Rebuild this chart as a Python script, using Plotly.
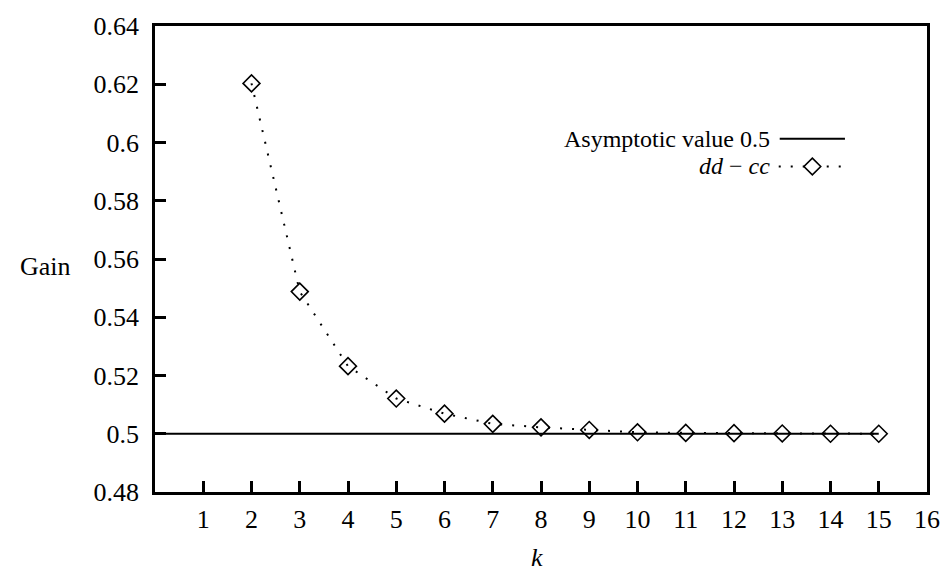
import plotly.graph_objects as go

# Data
k_values = [2, 3, 4, 5, 6, 7, 8, 9, 10, 11, 12, 13, 14, 15]
gain_dd_cc = [0.6203, 0.5488, 0.5232, 0.5121, 0.5069, 0.5034, 0.5022, 0.5013,
              0.5005, 0.5003, 0.5002, 0.5001, 0.5000, 0.5000]
asymptote_k = [0, 15]
asymptote_gain = [0.5, 0.5]
x_tick_vals = list(range(1, 17))
y_tick_vals = [0.48, 0.50, 0.52, 0.54, 0.56, 0.58, 0.60, 0.62, 0.64]
y_tick_text = ["0.48", "0.5", "0.52", "0.54", "0.56", "0.58", "0.6", "0.62", "0.64"]

FONT = "Liberation Serif"
FS = 26
LFS = 24

fig = go.Figure()
fig.add_trace(go.Scatter(
    x=asymptote_k, y=asymptote_gain, mode="lines",
    line=dict(color="black", width=2), showlegend=False, cliponaxis=True))
fig.add_trace(go.Scatter(
    x=k_values, y=gain_dd_cc, mode="lines+markers",
    line=dict(color="black", width=2, dash="2px,10px"),
    marker=dict(symbol="diamond-open", size=13, color="black", line=dict(width=1.6, color="black")),
    showlegend=False, cliponaxis=False))

W, H = 952, 574
ml, mr, mt, mb = 155, 16, 21, 82
pw, ph = W - ml - mr, H - mt - mb

def px(x):
    return (x - ml) / pw

def py(y):
    return 1 - (y - mt) / ph

L1, L2 = 135, 163
shapes = []
annotations = []
# custom legend (text on the left, sample on the right)
annotations.append(dict(x=px(778), y=py(L1), xref="paper", yref="paper", text="Asymptotic value 0.5",
                        showarrow=False, xanchor="right", yanchor="middle", borderpad=0,
                        font=dict(family=FONT, size=LFS, color="black")))
shapes.append(dict(type="line", xref="paper", yref="paper", x0=px(787), x1=px(853), y0=py(L1), y1=py(L1),
                   line=dict(color="black", width=2)))
annotations.append(dict(x=px(778), y=py(L2), xref="paper", yref="paper", text="<i>dd</i> − <i>cc</i>",
                        showarrow=False, xanchor="right", yanchor="middle", borderpad=0,
                        font=dict(family=FONT, size=LFS, color="black")))
shapes.append(dict(type="line", xref="paper", yref="paper", x0=px(786), x1=px(855), y0=py(L2), y1=py(L2),
                   line=dict(color="black", width=2, dash="2px,10px")))
shapes.append(dict(type="path", xref="paper", yref="paper",
                   path="M {a},{b} L {c},{d} L {a},{e} L {f},{d} Z".format(
                       a=px(820), b=py(L2 - 8.5), c=px(828.5), d=py(L2), e=py(L2 + 8.5), f=px(811.5)),
                   fillcolor="white", line=dict(color="black", width=1.6)))

# axis titles
annotations.append(dict(x=px(44), y=py(264), xref="paper", yref="paper", text="Gain", showarrow=False,
                        xanchor="center", yanchor="middle",
                        font=dict(family=FONT, size=FS, color="black")))
annotations.append(dict(x=px(541), y=py(558), xref="paper", yref="paper", text="<i>k</i>", showarrow=False,
                        xanchor="center", yanchor="middle",
                        font=dict(family=FONT, size=FS, color="black")))

fig.update_layout(
    width=W, height=H,
    margin=dict(l=ml, r=mr, t=mt, b=mb),
    paper_bgcolor="white", plot_bgcolor="white",
    font=dict(family=FONT, size=FS, color="black"),
    shapes=shapes, annotations=annotations,
    xaxis=dict(range=[0, 16], tickvals=x_tick_vals, ticks="inside", ticklen=11, tickwidth=2.5,
               tickcolor="black", showline=True, linecolor="black", linewidth=2.5, mirror=True,
               showgrid=False, zeroline=False, ticklabelstandoff=2),
    yaxis=dict(range=[0.48, 0.64], tickvals=y_tick_vals, ticktext=y_tick_text, ticks="inside",
               ticklen=11, tickwidth=2.5, tickcolor="black", showline=True, linecolor="black",
               linewidth=2.5, mirror=True, showgrid=False, zeroline=False, ticklabelstandoff=8),
)

fig.write_html("out.html", config={"displayModeBar": False},
               post_script="document.body.style.margin='0';document.body.style.overflow='hidden';")
